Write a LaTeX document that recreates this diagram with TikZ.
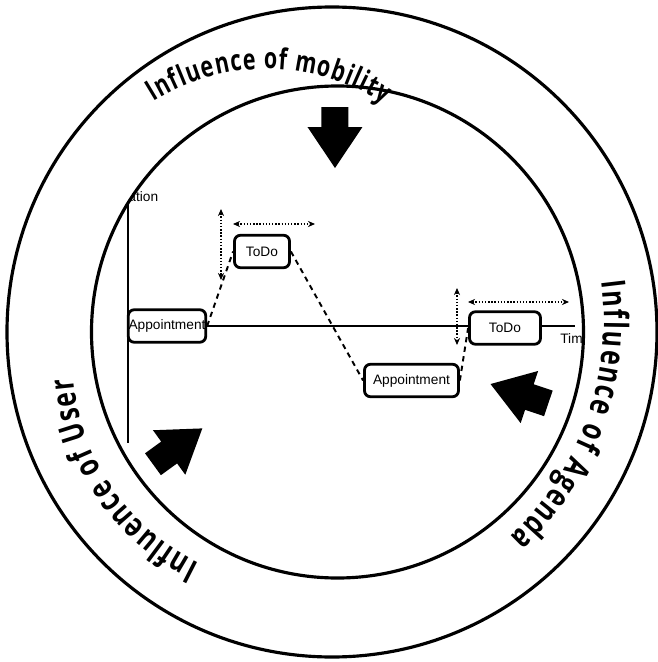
\documentclass[tikz,border=0pt]{standalone}
\usepackage{fontspec}
\newfontfamily\bandfont[FakeStretch=0.74]{Open Sans Bold}
\newfontfamily\chartfont{Liberation Sans}
\usetikzlibrary{arrows.meta,decorations.text,calc}

\begin{document}
\begin{tikzpicture}
  [every node/.style={font=\chartfont\fontsize{7.8}{9}\selectfont,inner sep=0pt},
   ring/.style={line width=1.8pt},
   band/.style n args={2}{decorate,decoration={text along path,text align=fit to path,
     text={|\bandfont\fontsize{#1}{#1}\selectfont|#2}}},
   slot/.style={draw,fill=white,rounded corners=0.12cm,line width=1.6pt,minimum height=0.65cm},
   link/.style={line width=1.1pt,dash pattern=on 3pt off 2.5pt},
   window/.style={line width=0.8pt,densely dotted,{Stealth[length=4pt,width=3.5pt]}-{Stealth[length=4pt,width=3.5pt]}}]

  \useasboundingbox (-6.7,-6.6) rectangle (6.46,6.64);

  % the two rings
  \draw[ring] (-0.06,0) circle (6.5);
  \draw[ring] (0.05,0) circle (4.92);

  % texts running round the band
  \path[band={16.5}{Influence of mobility}] ($(-1.36,0.98)+(122:4.28)$) arc[start angle=122,end angle=57,radius=4.28];
  \path[band={19}{Influence of Agenda}] ($(-0.56,0.24)+(7.5:5.94)$) arc[start angle=7.5,end angle=-47,radius=5.94];
  \path[band={19}{Influence of User}] ($(-0.74,-0.58)+(244:4.5)$) arc[start angle=244,end angle=184.5,radius=4.5];

  % block arrows pointing inwards
  \foreach \a in {90,216,-18.5}
    \fill[rotate=\a] (4.5,0.27) -- (4.1,0.27) -- (4.1,0.55) -- (3.28,0)
      -- (4.1,-0.55) -- (4.1,-0.27) -- (4.5,-0.27) -- cycle;

  \begin{scope}
    \clip (0.05,0) circle (4.92);

    % axes
    \coordinate (ytop) at (-4.14,3.6);
    \coordinate (ybot) at (-4.14,-2.22);
    \coordinate (orig) at (-4.14,0.12);
    \coordinate (xend) at (4.8,0.12);
    \draw[line width=0.8pt] (ytop) -- (ybot);
    \draw[line width=0.9pt] (orig) -- (xend);
    \node[anchor=east] (loc) at (-3.53,2.70) {Location};
    \node[anchor=west] (time) at (4.5,-0.14) {Time};

    % agenda items
    \node[slot,minimum width=1.55cm] (appA) at (-3.36,0.12) {Appointment};
    \node[slot,minimum width=1.10cm] (todoA) at (-1.46,1.61) {ToDo};
    \node[slot,minimum width=1.88cm] (appB) at (1.53,-0.97) {Appointment};
    \node[slot,minimum width=1.42cm] (todoB) at (3.40,0.08) {ToDo};

    \foreach \from/\to in {appA/todoA,todoA/appB,appB/todoB}
      \draw[link] (\from.east) -- (\to.west);

    % time windows of the todos
    \coordinate (wa1) at (-2.28,2.46);
    \coordinate (wa2) at (-2.28,1.04);
    \coordinate (wa3) at (-2.04,2.16);
    \coordinate (wa4) at (-0.40,2.16);
    \coordinate (wb1) at (2.44,0.88);
    \coordinate (wb2) at (2.44,-0.26);
    \coordinate (wb3) at (2.66,0.60);
    \coordinate (wb4) at (4.68,0.60);
    \foreach \from/\to in {wa1/wa2,wa3/wa4,wb1/wb2,wb3/wb4}
      \draw[window] (\from) -- (\to);
  \end{scope}
\end{tikzpicture}
\end{document}
